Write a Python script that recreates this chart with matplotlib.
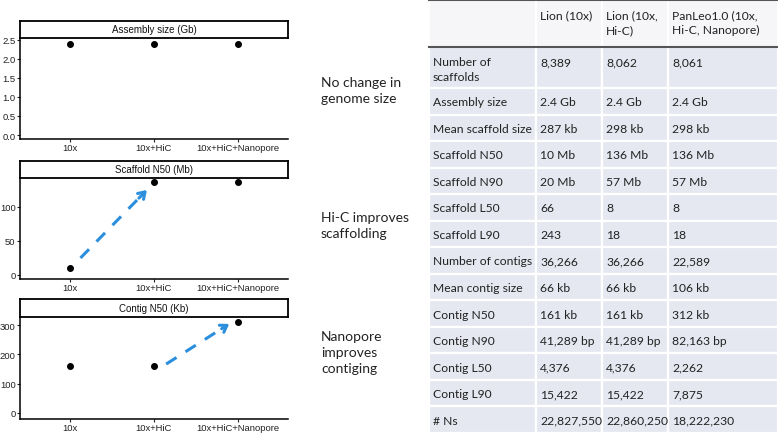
import matplotlib
matplotlib.use('Agg')
import matplotlib.pyplot as plt
from matplotlib.patches import Rectangle

# data for the three dot panels
categories = ['10x', '10x+HiC', '10x+HiC+Nanopore']
assembly_size = [2.4, 2.4, 2.4]
scaffold_n50 = [10, 136, 136]
contig_n50 = [161, 161, 312]

notes = ['No change in\ngenome size', 'Hi-C improves\nscaffolding', 'Nanopore\nimproves\ncontiging']

# table
col_labels = ['', 'Lion (10x)', 'Lion (10x,\nHi-C)', 'PanLeo1.0 (10x,\nHi-C, Nanopore)']
row_labels = ['Number of\nscaffolds', 'Assembly size', 'Mean scaffold size', 'Scaffold N50',
              'Scaffold N90', 'Scaffold L50', 'Scaffold L90', 'Number of contigs',
              'Mean contig size', 'Contig N50', 'Contig N90', 'Contig L50', 'Contig L90', '# Ns']
lion_10x = ['8,389', '2.4 Gb', '287 kb', '10 Mb', '20 Mb', '66', '243', '36,266', '66 kb',
            '161 kb', '41,289 bp', '4,376', '15,422', '22,827,550']
lion_10x_hic = ['8,062', '2.4 Gb', '298 kb', '136 Mb', '57 Mb', '8', '18', '36,266', '66 kb',
                '161 kb', '41,289 bp', '4,376', '15,422', '22,860,250']
panleo = ['8,061', '2.4 Gb', '298 kb', '136 Mb', '57 Mb', '8', '18', '22,589', '106 kb',
          '312 kb', '82,163 bp', '2,262', '7,875', '18,222,230']

W, H = 778, 435
fig = plt.figure(figsize=(W / 100, H / 100), dpi=100)
fig.patch.set_facecolor('white')

# background axes in pixel units for the table and notes
bg = fig.add_axes([0, 0, 1, 1])
bg.set_xlim(0, W)
bg.set_ylim(H, 0)
bg.axis('off')

col_x = [429, 536, 602, 668, 778]
row_y = [1, 48, 89]
step = (434 - 89) / 13
for i in range(1, 14):
    row_y.append(89 + i * step)

tfont = 'Lato'
for r in range(len(row_y) - 1):
    y0, y1 = row_y[r], row_y[r + 1]
    fc = '#f6f6f8' if r == 0 else '#e5e8f0'
    for c in range(4):
        bg.add_patch(Rectangle((col_x[c], y0), col_x[c + 1] - col_x[c], y1 - y0,
                               facecolor=fc, edgecolor='white', lw=1.6))
    if r == 0:
        cells = col_labels
    else:
        cells = [row_labels[r - 1], lion_10x[r - 1], lion_10x_hic[r - 1], panleo[r - 1]]
    for c, txt in enumerate(cells):
        if r <= 1:
            bg.text(col_x[c] + 4, y0 + 9, txt, ha='left', va='top', fontsize=8.7,
                    family=tfont, color='#222222', linespacing=1.45)
        else:
            bg.text(col_x[c] + 4, (y0 + y1) / 2 + 0.5, txt, ha='left', va='center',
                    fontsize=8.7, family=tfont, color='#222222')
bg.plot([col_x[0], W], [1, 1], color='#555555', lw=1.5)
bg.plot([col_x[0], W], [48, 48], color='#555555', lw=1.5)

note_y = [77, 212, 331]
for t, y in zip(notes, note_y):
    bg.text(321, y, t, ha='left', va='top', fontsize=10, family=tfont,
            color='#222222', linespacing=1.4)

# dot panels (pixel boxes: top of strip, top of panel, bottom of panel)
panels = [
    ('Assembly size (Gb)', assembly_size, (22, 39, 140), (-0.105, 2.55), [0, 0.5, 1, 1.5, 2, 2.5],
     ['0.0', '0.5', '1.0', '1.5', '2.0', '2.5'], None),
    ('Scaffold N50 (Mb)', scaffold_n50, (162, 179, 280), (-5.9, 142.6), [0, 50, 100],
     ['0', '50', '100'], ((1.13, 25), (1.92, 125))),
    ('Contig N50 (Kb)', contig_n50, (300, 318, 420), (-20.5, 327.6), [0, 100, 200, 300],
     ['0', '100', '200', '300'], ((2.15, 167), (2.9, 304))),
]

nfont = ['Liberation Sans Narrow', 'Liberation Sans']
x = [1, 2, 3]
left, right = 20, 288
for title, vals, (ys, yt, yb), ylim, yticks, ylabels, arrow in panels:
    ax = fig.add_axes([left / W, 1 - yb / H, (right - left) / W, (yb - yt) / H])
    ax.plot(x, vals, 'o', color='black', ms=4)
    ax.set_xlim(0.41, 3.6)
    ax.set_ylim(*ylim)
    ax.set_xticks(x, categories)
    ax.set_yticks(yticks, ylabels)
    for s in ['top', 'right']:
        ax.spines[s].set_visible(False)
    for s in ['left', 'bottom']:
        ax.spines[s].set_linewidth(1.1)
    ax.tick_params(labelsize=6.8, colors='#222222', length=2, width=0.8, pad=1.2)
    for lab in ax.get_xticklabels() + ax.get_yticklabels():
        lab.set_family(nfont)
    if arrow is not None:
        (x0, y0), (x1, y1) = arrow
        fx = x0 + (x1 - x0) * 0.88
        fy = y0 + (y1 - y0) * 0.88
        ax.plot([x0, fx], [y0, fy], color='#2b8fde', lw=2.2, dashes=(4, 3.5),
                solid_capstyle='butt')
        ax.annotate('', xy=(x1, y1), xytext=(fx, fy),
                    arrowprops=dict(arrowstyle='->,head_length=0.45,head_width=0.3',
                                    color='#2b8fde', lw=2.2, shrinkA=0, shrinkB=0))

    sx = fig.add_axes([left / W, 1 - yt / H, (right - left) / W, (yt - ys) / H])
    sx.set_xticks([])
    sx.set_yticks([])
    for s in sx.spines.values():
        s.set_linewidth(1.3)
    sx.text(0.5, 0.5, title, ha='center', va='center', fontsize=7,
            family=nfont, color='#111111', transform=sx.transAxes)

plt.savefig('out.png', dpi=100)
